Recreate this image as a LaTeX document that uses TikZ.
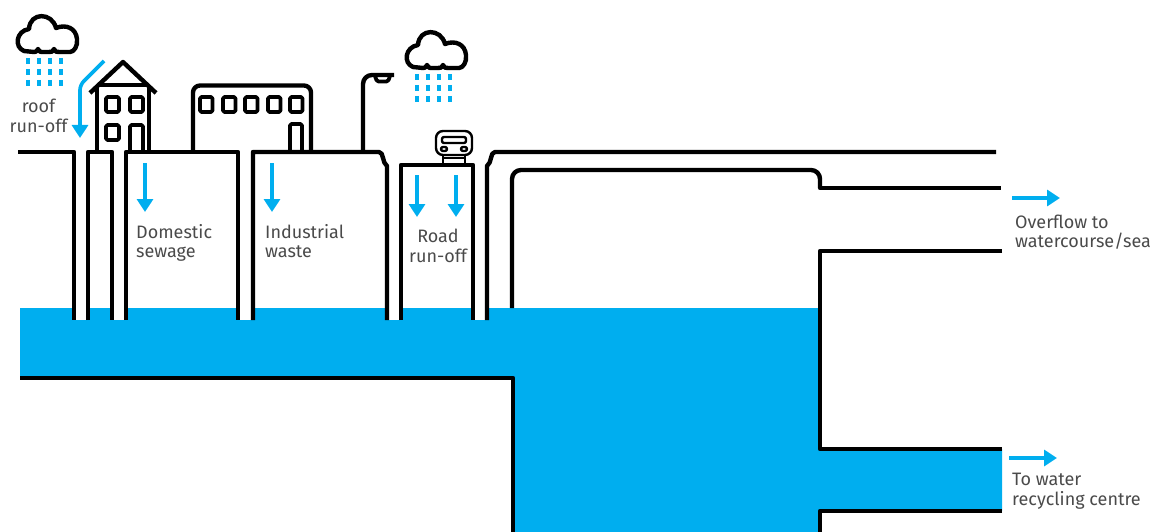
\documentclass[tikz,border=0pt]{standalone}
\usepackage{fontspec}
\setmainfont{Fira Sans}
\usepackage{xcolor}
\usetikzlibrary{arrows.meta, positioning}
\definecolor{waterblue}{HTML}{00AEEF}
\definecolor{labelgrey}{HTML}{4A4A4A}
\begin{document}
\begin{tikzpicture}[
    x=1pt, y=-1pt,
    pipe/.style={line width=4.4pt, line join=round},
    window/.style={line width=3.8pt, line join=round, rounded corners=1.5pt},
    thin outline/.style={line width=2.4pt, line join=round, rounded corners=2pt},
    flow/.style={waterblue, line width=3.6pt, -{Triangle[length=13pt, width=16pt]}},
    label/.style={font=\fontsize{18}{19.5}\selectfont, text=labelgrey, align=left, inner sep=0pt, anchor=west},
    rain/.style={waterblue, line width=4pt},
    rain cloud/.pic={
      \draw[pipe] (24,51) .. controls (14,47) and (16,31) .. (29,29)
        .. controls (30,12) and (52,12) .. (56,28) .. controls (66,24) and (76,28) .. (77,39)
        .. controls (78,46) and (74,52) .. (70,52) -- (59,52) .. controls (56,52) .. (54,49)
        .. controls (52,52) .. (49,52) -- (42,52) .. controls (40,52) .. (38,49)
        .. controls (36,52) .. (34,52) -- cycle;
      \foreach \rx in {28,39,50,61}
        \foreach \ry in {61,72,83}
          \draw[rain] (\rx,\ry-3) -- (\rx,\ry+3);
    }
  ]
    \useasboundingbox (0,0) rectangle (1158,532);

    % water
    \fill[waterblue] (20,308) -- (820,308) -- (820,449) -- (1002,449) -- (1002,511) -- (820,511)
      -- (820,532) -- (513,532) -- (513,378) -- (20,378) -- cycle;
    \foreach \pl/\pr in {74/88, 112/126, 238/253, 387/401, 473/487}
      \fill[white] (\pl,306) rectangle (\pr,320);

    % ground and pipes
    \draw[pipe] (18,152) -- (74,152) -- (74,320);
    \draw[pipe] (88,320) -- (88,152) -- (112,152) -- (112,320);
    \draw[pipe] (126,320) -- (126,152) -- (238,152) -- (238,320);
    \draw[pipe] (253,320) -- (253,152) -- (379,152) .. controls (384,152) and (382,163) .. (387,166) -- (387,320);
    \draw[pipe] (401,320) -- (401,165) -- (473,165) -- (473,320);
    \draw[pipe] (487,320) -- (487,166) .. controls (492,163) and (490,152) .. (495,152) -- (996,152);
    \draw[pipe, rounded corners=9pt] (512,308) -- (512,170) -- (820,170) -- (820,188);
    \draw[pipe] (820,186) -- (820,188) -- (1001,188);

    % tank and outlets
    \draw[pipe] (20,378) -- (513,378) -- (513,532);
    \draw[pipe] (1002,251) -- (820,251) -- (820,449) -- (1002,449);
    \draw[pipe] (1002,511) -- (820,511) -- (820,532);

    % house
    \draw[pipe] (90,93) -- (123,62) -- (156,93);
    \draw[pipe] (100,85) -- (148,85);
    \draw[pipe] (97,152) -- (97,88);
    \draw[pipe] (149,152) -- (149,88);
    \foreach \wx/\wy in {106/97, 130/97, 106/125}
      \draw[window] (\wx,\wy) rectangle (\wx+13,\wy+15);
    \draw[window] (130,152) -- (130,125) -- (143,125) -- (143,152);

    % factory
    \draw[pipe, rounded corners=7pt] (193,152) -- (193,85.5) -- (311,85.5) -- (311,152);
    \foreach \wx in {200,223,245,268,290}
      \draw[window] (\wx,97) rectangle (\wx+12.5,112);
    \draw[window] (290,152) -- (290,124) -- (302,124) -- (302,152);

    % street lamp
    \draw[pipe, rounded corners=9pt] (363,152) -- (363,75) -- (394,75);
    \draw[window] (375,76) -- (377,81.5) -- (388,81.5) -- (390,76);

    % car
    \draw[thin outline, rounded corners=7pt, fill=white] (436,155) -- (436,131) -- (472,131) -- (472,155) -- cycle;
    \draw[thin outline] (442,137) rectangle (466,143);
    \draw[thin outline] (441,147) rectangle (447,151);
    \draw[thin outline] (461,147) rectangle (467,151);
    \draw[thin outline, rounded corners=0pt] (443,155) -- (443,164);
    \draw[thin outline, rounded corners=0pt] (465,155) -- (465,164);
    \draw[thin outline, rounded corners=0pt] (443,158) -- (465,158);

    % clouds
    \pic at (0,0) {rain cloud};
    \pic at (389,16) {rain cloud};

    % flow arrows
    \coordinate (roofA) at (104,61);
    \coordinate (roofB) at (80,85);
    \coordinate (roofC) at (80,138);
    \coordinate (domA) at (145,163);
    \coordinate (domB) at (145,212);
    \coordinate (indA) at (272,163);
    \coordinate (indB) at (272,212);
    \coordinate (roadA) at (417,175);
    \coordinate (roadB) at (417,217);
    \coordinate (roadC) at (456,175);
    \coordinate (roadD) at (456,217);
    \coordinate (overA) at (1012,198);
    \coordinate (overB) at (1060,198);
    \coordinate (recycA) at (1009,458);
    \coordinate (recycB) at (1057,458);
    \draw[flow, rounded corners=5pt] (roofA) -- (roofB) -- (roofC);
    \draw[flow] (domA) -- (domB);
    \draw[flow] (indA) -- (indB);
    \draw[flow] (roadA) -- (roadB);
    \draw[flow] (roadC) -- (roadD);
    \draw[flow] (overA) -- (overB);
    \draw[flow] (recycA) -- (recycB);

    % labels
    \node[label, align=center, anchor=center] (roof) at (38.5,116) {roof\\run-off};
    \node[label] (domestic) at (136,243) {Domestic\\sewage};
    \node[label] (industrial) at (265,241) {Industrial\\waste};
    \node[label, align=center, anchor=center] (road) at (438,246) {Road\\run-off};
    \node[label] (overflow) at (1015,232) {Overflow to\\watercourse/sea};
    \node[label] (recycling) at (1012,491) {To water\\recycling centre};
  \end{tikzpicture}
\end{document}
